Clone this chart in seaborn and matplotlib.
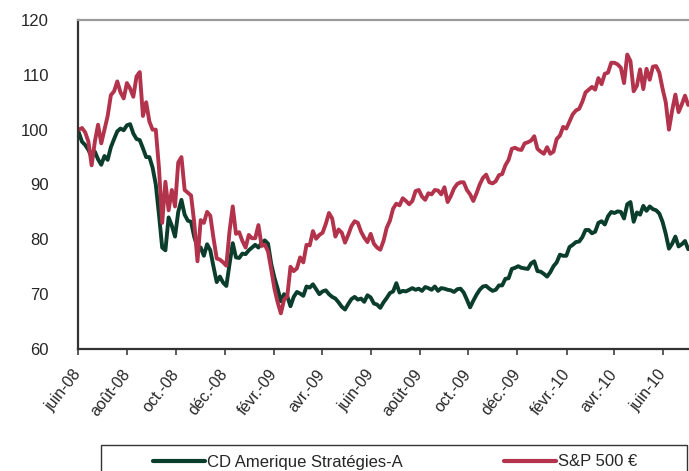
import pandas as pd
import seaborn as sns
from matplotlib import pyplot as plt

# indices base 100 (un point tous les 4 jours)
dates = pd.date_range("2008-06-02", periods=191, freq="4D")

cd_amerique = [
    99.5, 97.8, 97.2, 96.3, 95.0, 96.0, 94.6, 93.6, 95.2, 94.5,
    96.8, 98.3, 99.7, 100.2, 99.9, 100.8, 101.0, 99.3, 98.3, 98.1,
    96.6, 95.0, 95.0, 93.1, 90.0, 84.5, 78.5, 78.0, 84.0, 82.5,
    80.5, 85.0, 87.2, 84.5, 83.4, 83.2, 80.4, 78.6, 78.5, 77.0,
    79.1, 78.0, 75.0, 72.2, 73.2, 72.1, 71.5, 75.5, 79.3, 76.7,
    76.6, 77.4, 77.3, 78.0, 78.5, 79.0, 78.5, 79.4, 79.8, 79.2,
    75.5, 73.0, 71.0, 68.7, 70.0, 69.6, 67.8, 69.5, 70.4, 70.1,
    69.7, 71.4, 71.2, 71.8, 70.9, 70.0, 70.5, 70.7, 70.0, 69.5,
    69.2, 68.5, 67.7, 67.2, 68.2, 69.1, 69.5, 69.0, 69.2, 68.6,
    69.8, 69.4, 68.3, 68.1, 67.5, 68.5, 69.3, 70.2, 70.5, 72.0,
    70.3, 70.6, 70.5, 70.8, 71.1, 70.8, 71.0, 70.6, 71.3, 71.1,
    70.8, 71.4, 70.6, 71.1, 71.0, 70.8, 70.7, 70.4, 70.9, 71.0,
    70.3, 69.0, 67.6, 68.8, 69.9, 70.8, 71.4, 71.5, 71.0, 70.6,
    70.8, 71.6, 71.6, 72.8, 72.9, 74.6, 74.8, 75.1, 74.8, 74.7,
    74.6, 75.6, 76.0, 74.2, 74.1, 73.7, 73.2, 74.0, 75.1, 75.8,
    77.2, 77.0, 77.0, 78.6, 79.0, 79.5, 79.6, 80.4, 81.7, 81.7,
    81.1, 81.4, 83.0, 83.3, 82.7, 84.2, 85.0, 84.8, 85.1, 85.0,
    83.8, 86.4, 86.8, 83.2, 84.9, 84.5, 86.1, 85.2, 86.0, 85.5,
    85.3, 84.7, 83.2, 81.0, 78.3, 79.2, 80.5, 78.7, 79.1, 79.7,
    78.2,
]

sp500_eur = [
    100.0, 100.3, 99.5, 97.8, 93.5, 97.8, 100.9, 97.5, 100.0, 102.5,
    106.3, 107.0, 108.8, 106.8, 105.7, 108.5, 107.5, 106.0, 109.7, 110.5,
    102.5, 105.0, 101.5, 100.0, 100.0, 93.0, 83.0, 90.5, 85.3, 89.0,
    86.0, 94.0, 95.0, 89.0, 88.5, 88.0, 83.0, 76.0, 83.5, 83.0,
    85.0, 84.3, 80.2, 76.5, 76.3, 75.8, 75.2, 81.5, 86.0, 81.0,
    81.3, 79.7, 78.5, 80.8, 80.2, 80.2, 82.6, 78.8, 79.0, 77.8,
    74.5, 71.0, 68.5, 66.5, 69.0, 69.6, 75.0, 74.2, 74.7, 76.7,
    75.8, 79.0, 78.9, 81.5, 80.1, 80.8, 81.2, 82.8, 84.8, 83.8,
    80.5, 81.8, 81.2, 79.4, 80.8, 82.4, 83.3, 83.0, 81.4, 80.3,
    79.5, 81.0, 79.2, 78.5, 78.1, 79.7, 82.1, 83.4, 85.6, 86.5,
    86.2, 87.5, 87.0, 86.4, 87.0, 88.8, 89.0, 87.8, 87.2, 88.4,
    88.2, 89.0, 88.9, 88.2, 89.5, 86.8, 87.9, 89.3, 90.1, 90.4,
    90.4, 89.0, 88.2, 87.0, 88.4, 90.0, 91.2, 91.8, 90.4, 90.2,
    90.6, 91.7, 91.9, 93.5, 94.5, 96.5, 96.7, 96.4, 96.3, 97.5,
    97.7, 98.0, 98.8, 96.5, 96.0, 95.6, 96.8, 95.6, 96.0, 98.3,
    98.9, 100.5, 100.2, 101.5, 102.8, 103.5, 103.8, 105.1, 106.8, 107.3,
    107.8, 107.3, 109.4, 108.3, 110.2, 110.4, 112.2, 112.2, 111.9, 111.3,
    108.5, 113.7, 112.5, 107.0, 108.0, 111.0, 107.4, 111.1, 109.1, 111.5,
    111.6, 110.4, 107.5, 105.0, 100.0, 103.5, 106.4, 103.2, 104.6, 106.2,
    104.5,
]

series_names = ["CD Amerique Stratégies-A", "S&P 500 €"]
series_colors = ["#0b3d2c", "#b2334b"]

tick_dates = pd.date_range("2008-06-01", "2010-06-01", freq="2MS")
tick_labels = ["juin-08", "août-08", "oct.-08", "déc.-08", "févr.-09",
               "avr.-09", "juin-09", "août-09", "oct.-09", "déc.-09",
               "févr.-10", "avr.-10", "juin-10"]

sns.set_style("white")
plt.rcParams['font.family'] = ['Liberation Sans', 'DejaVu Sans']

df = pd.DataFrame({"date": dates,
                   series_names[0]: cd_amerique,
                   series_names[1]: sp500_eur})
df_long = df.melt("date", var_name="serie", value_name="valeur")

fig = plt.figure(figsize=(6.89, 4.71), dpi=100)
ax = fig.add_axes([78 / 689, 1 - 349 / 471, 611 / 689, 329 / 471])

sns.lineplot(data=df_long, x="date", y="valeur", hue="serie",
             hue_order=series_names, palette=series_colors,
             linewidth=2.8, ax=ax, legend=False)

ax.set_xlim(pd.Timestamp("2008-06-01"), pd.Timestamp("2010-07-03"))
ax.set_ylim(60, 120)
ax.set_yticks(range(60, 121, 10))
ax.set_xticks(tick_dates)
ax.set_xticklabels(tick_labels, rotation=52, ha="right", va="center",
                   rotation_mode="anchor")
ax.set_xlabel("")
ax.set_ylabel("")

ax.tick_params(axis="x", direction="out", length=4, width=1.2,
               color="#404040", pad=12, labelsize=11.5, bottom=True)
ax.tick_params(axis="y", length=0, pad=21, labelsize=12)

for side in ["left", "bottom"]:
    ax.spines[side].set_color("#333333")
    ax.spines[side].set_linewidth(1.6)
ax.spines["top"].set_color("#9a9a9a")
ax.spines["top"].set_linewidth(1.6)
ax.spines["right"].set_visible(False)

# legende en bas, cadre coupé par le bord de l'image
handles = [plt.Line2D([], [], color=c, lw=3) for c in series_colors]
fig.legend(handles, series_names, loc="center",
           bbox_to_anchor=(153 / 689, 1 - 462 / 471, 484 / 689, 0),
           mode="expand", ncol=2, frameon=False, borderpad=0,
           borderaxespad=0, handlelength=3.1, handletextpad=0.12,
           fontsize=12)
fig.patches.append(plt.Rectangle((101 / 689, -0.05), 586 / 689,
                                 0.05 + 26 / 471, transform=fig.transFigure,
                                 fill=False, edgecolor="#333333", lw=1))

fig.savefig("out.png", dpi=100)
